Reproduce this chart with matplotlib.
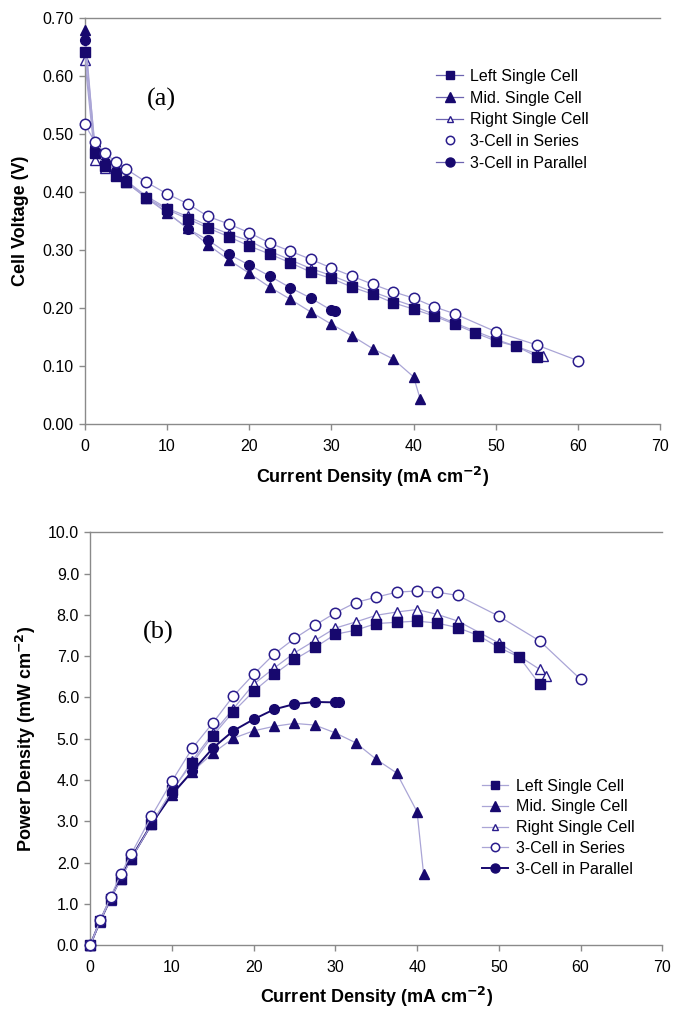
import matplotlib
matplotlib.use("Agg")
import matplotlib.pyplot as plt
from matplotlib.lines import Line2D

plt.rcParams['font.family'] = ['Liberation Sans', 'DejaVu Sans']

# ---------------- data ----------------
labels = ["Left Single Cell", "Mid. Single Cell", "Right Single Cell",
          "3-Cell in Series", "3-Cell in Parallel"]

# current densities (mA cm^-2)
i_left = [0, 1.25, 2.5, 3.75, 5, 7.5, 10, 12.5, 15, 17.5, 20, 22.5, 25, 27.5, 30,
          32.5, 35, 37.5, 40, 42.5, 45, 47.5, 50, 52.5, 55]
i_mid = [0, 1.25, 2.5, 3.75, 5, 7.5, 10, 12.5, 15, 17.5, 20, 22.5, 25, 27.5, 30,
         32.5, 35, 37.5, 40, 40.8]
i_right = [0, 1.25, 2.5, 3.75, 5, 7.5, 10, 12.5, 15, 17.5, 20, 22.5, 25, 27.5, 30,
           32.5, 35, 37.5, 40, 42.5, 45, 50, 55, 55.8]
i_series = [0, 1.25, 2.5, 3.75, 5, 7.5, 10, 12.5, 15, 17.5, 20, 22.5, 25, 27.5, 30,
            32.5, 35, 37.5, 40, 42.5, 45, 50, 55, 60]
i_par = [0, 1.25, 2.5, 3.75, 5, 7.5, 10, 12.5, 15, 17.5, 20, 22.5, 25, 27.5, 30, 30.4]

# cell voltage (V)
v_left = [0.641, 0.467, 0.445, 0.428, 0.417, 0.390, 0.370, 0.354, 0.338, 0.323, 0.307,
          0.293, 0.278, 0.262, 0.251, 0.236, 0.224, 0.209, 0.198, 0.186, 0.172, 0.157,
          0.143, 0.134, 0.116]
v_mid = [0.679, 0.470, 0.448, 0.432, 0.417, 0.390, 0.364, 0.338, 0.309, 0.283, 0.260,
         0.236, 0.215, 0.193, 0.172, 0.152, 0.130, 0.112, 0.081, 0.043]
v_right = [0.628, 0.455, 0.441, 0.430, 0.420, 0.393, 0.372, 0.358, 0.342, 0.328, 0.316,
           0.298, 0.283, 0.268, 0.256, 0.242, 0.228, 0.215, 0.203, 0.189, 0.174,
           0.146, 0.121, 0.117]
v_series = [0.517, 0.486, 0.467, 0.452, 0.440, 0.417, 0.397, 0.380, 0.358, 0.345, 0.330,
            0.312, 0.298, 0.284, 0.269, 0.255, 0.241, 0.228, 0.217, 0.202, 0.190,
            0.159, 0.136, 0.109]
v_par = [0.662, 0.478, 0.452, 0.437, 0.420, 0.390, 0.365, 0.337, 0.317, 0.293, 0.274,
         0.255, 0.235, 0.217, 0.196, 0.194]

# power density (mW cm^-2)
p_left = [0.0, 0.59, 1.12, 1.60, 2.08, 2.93, 3.75, 4.41, 5.07, 5.65, 6.15, 6.56, 6.92,
          7.21, 7.53, 7.63, 7.79, 7.82, 7.85, 7.80, 7.69, 7.50, 7.21, 6.98, 6.32]
p_mid = [0.0, 0.59, 1.12, 1.62, 2.08, 2.93, 3.63, 4.20, 4.65, 5.01, 5.19, 5.30, 5.37,
         5.33, 5.14, 4.90, 4.50, 4.17, 3.23, 1.72]
p_right = [0.0, 0.57, 1.10, 1.61, 2.10, 2.95, 3.72, 4.47, 5.13, 5.72, 6.32, 6.71, 7.08,
           7.38, 7.68, 7.83, 7.99, 8.07, 8.13, 8.01, 7.85, 7.32, 6.68, 6.51]
p_series = [0.0, 0.61, 1.17, 1.72, 2.20, 3.12, 3.97, 4.77, 5.38, 6.03, 6.56, 7.05, 7.43,
            7.75, 8.05, 8.30, 8.43, 8.55, 8.58, 8.55, 8.47, 7.97, 7.37, 6.44]
p_par = [0.0, 0.60, 1.13, 1.64, 2.10, 2.93, 3.65, 4.21, 4.77, 5.19, 5.47, 5.71, 5.84,
         5.89, 5.88, 5.88]

x_ticks = [0, 10, 20, 30, 40, 50, 60, 70]
v_ticks = [0.0, 0.1, 0.2, 0.3, 0.4, 0.5, 0.6, 0.7]
p_ticks = [0, 1, 2, 3, 4, 5, 6, 7, 8, 9, 10]

# ---------------- style ----------------
NAVY = "#17086e"
OPEN = "#2a1c8c"
LINE = "#aaa5d6"
LEGLINE_A = "#6c63b0"
AX = "#8a8a8a"
TICK_FS = 11.5
LAB_FS = 13
LEG_FS = 11.5
SERIF = ["Liberation Serif", "DejaVu Serif"]

fig = plt.figure(figsize=(6.73, 10.14), dpi=100)
ax1 = fig.add_axes([0.126, 0.582, 0.855, 0.400])
ax2 = fig.add_axes([0.134, 0.068, 0.850, 0.407])


def style_axes(ax, yticks, yfmt, ylim):
    ax.set_xlim(0, 70)
    ax.set_ylim(*ylim)
    ax.set_xticks(x_ticks)
    ax.set_yticks(yticks)
    ax.set_yticklabels([yfmt.format(t) for t in yticks])
    for s in ["left", "bottom", "top"]:
        ax.spines[s].set_color(AX)
        ax.spines[s].set_linewidth(1.0)
    ax.spines["right"].set_visible(False)
    ax.tick_params(axis="both", direction="out", length=4, width=1.0, color=AX,
                   labelsize=TICK_FS, labelcolor="black", pad=4)
    ax.tick_params(axis="x", pad=7)


def plot_set(ax, ys, par_dark):
    xs = [i_left, i_mid, i_right, i_series, i_par]
    kw = dict(clip_on=False)
    ax.plot(xs[0], ys[0], color=LINE, lw=0.9, marker="s", ms=6.5,
            mfc=NAVY, mec=NAVY, zorder=4, **kw)
    ax.plot(xs[1], ys[1], color=LINE, lw=0.9, marker="^", ms=7,
            mfc=NAVY, mec=NAVY, zorder=3, **kw)
    ax.plot(xs[2], ys[2], color=LINE, lw=0.9, marker="^", ms=6.5,
            mfc="white", mec=OPEN, mew=1.0, zorder=2, **kw)
    ax.plot(xs[3], ys[3], color=LINE, lw=0.9, marker="o", ms=7.5,
            mfc="white", mec=OPEN, mew=1.1, zorder=5, **kw)
    if par_dark:
        ax.plot(xs[4], ys[4], color=NAVY, lw=1.4, marker="o", ms=7,
                mfc=NAVY, mec=NAVY, zorder=3, **kw)
    else:
        ax.plot(xs[4], ys[4], color=LINE, lw=0.9, marker="o", ms=7,
                mfc=NAVY, mec=NAVY, zorder=3, **kw)


xlabel = "Current Density (mA cm$^{\\mathbf{-2}}$)"

# ---------------- panel (a) ----------------
style_axes(ax1, v_ticks, "{:.2f}", (0, 0.70))
plot_set(ax1, [v_left, v_mid, v_right, v_series, v_par], par_dark=False)
ax1.set_ylabel("Cell Voltage (V)", fontsize=LAB_FS, fontweight="bold")
ax1.yaxis.set_label_coords(-0.097, 0.5)
ax1.set_xlabel(xlabel, fontsize=LAB_FS, fontweight="bold")
ax1.xaxis.set_label_coords(0.5, -0.10)
ax1.text(0.134, 0.80, "(a)", transform=ax1.transAxes, fontsize=19,
         family=SERIF, ha="center", va="center")

leg_a = [
    Line2D([], [], color=LEGLINE_A, lw=0.9, marker="s", ms=6, mfc=NAVY, mec=NAVY),
    Line2D([], [], color=LEGLINE_A, lw=0.9, marker="^", ms=6.5, mfc=NAVY, mec=NAVY),
    Line2D([], [], color=LEGLINE_A, lw=0.9, marker="^", ms=5, mfc="white", mec=OPEN),
    Line2D([], [], ls="none", marker="o", ms=6, mfc="white", mec=OPEN, mew=1.1),
    Line2D([], [], color=LEGLINE_A, lw=0.9, marker="o", ms=6.5, mfc=NAVY, mec=NAVY),
]
ax1.legend(leg_a, labels, loc="upper left", bbox_to_anchor=(0.611, 0.875),
           frameon=False, fontsize=LEG_FS, handlelength=1.65, handletextpad=0.45,
           labelspacing=0.42, borderaxespad=0, borderpad=0)

# ---------------- panel (b) ----------------
style_axes(ax2, p_ticks, "{:.1f}", (0, 10.0))
plot_set(ax2, [p_left, p_mid, p_right, p_series, p_par], par_dark=True)
ax2.set_ylabel("Power Density (mW cm$^{\\mathbf{-2}}$)", fontsize=LAB_FS,
               fontweight="bold")
ax2.yaxis.set_label_coords(-0.092, 0.5)
ax2.set_xlabel(xlabel, fontsize=LAB_FS, fontweight="bold")
ax2.xaxis.set_label_coords(0.5, -0.097)
ax2.text(0.119, 0.758, "(b)", transform=ax2.transAxes, fontsize=19,
         family=SERIF, ha="center", va="center")

leg_b = [
    Line2D([], [], color=LINE, lw=0.9, marker="s", ms=6, mfc=NAVY, mec=NAVY),
    Line2D([], [], color=LINE, lw=0.9, marker="^", ms=6.5, mfc=NAVY, mec=NAVY),
    Line2D([], [], color=LINE, lw=0.9, marker="^", ms=5, mfc="white", mec=OPEN),
    Line2D([], [], color=LINE, lw=0.9, marker="o", ms=6, mfc="white", mec=OPEN, mew=1.1),
    Line2D([], [], color=NAVY, lw=1.4, marker="o", ms=6.5, mfc=NAVY, mec=NAVY),
]
ax2.legend(leg_b, labels, loc="upper left", bbox_to_anchor=(0.685, 0.403),
           frameon=False, fontsize=LEG_FS, handlelength=1.65, handletextpad=0.45,
           labelspacing=0.36, borderaxespad=0, borderpad=0)

fig.savefig("out.png", dpi=100)
